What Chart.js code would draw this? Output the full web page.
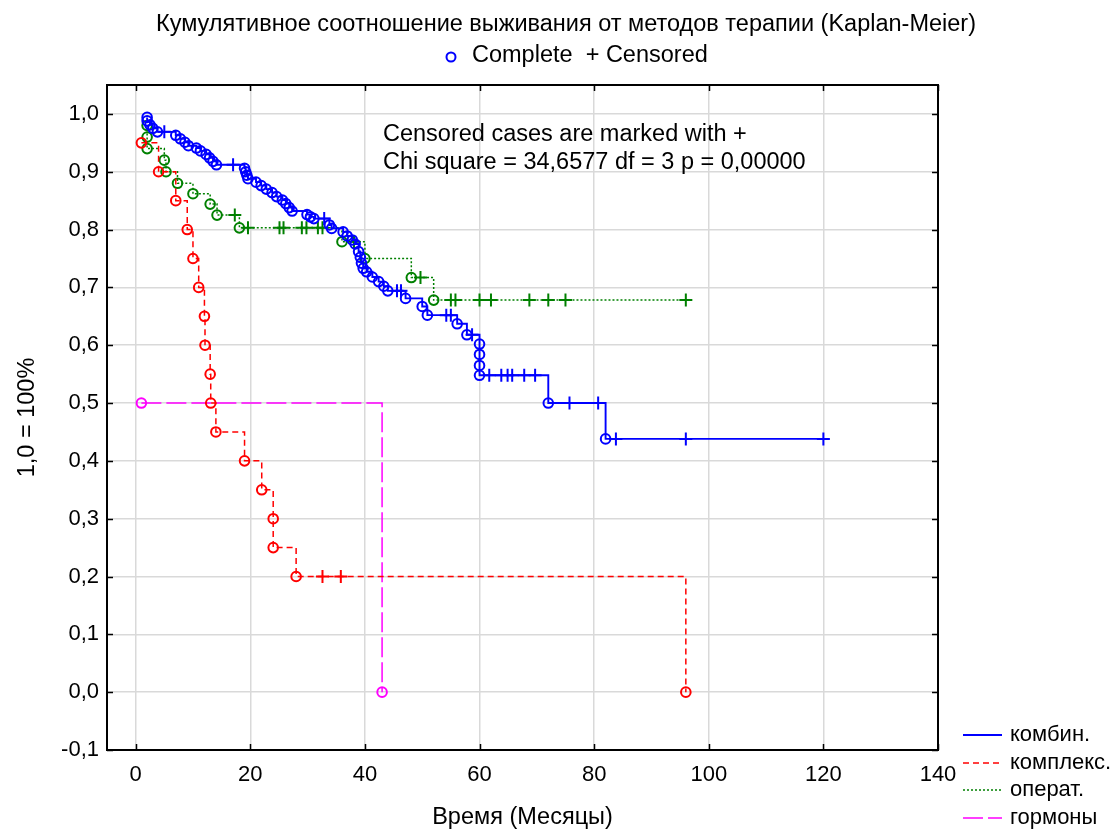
<!DOCTYPE html>
<html><head><meta charset="utf-8">
<script src="https://cdn.jsdelivr.net/npm/chart.js@4.4.1/dist/chart.umd.min.js"></script>
<style>html,body{margin:0;padding:0;background:#fff;}</style>
</head><body>
<canvas id="c" width="1118" height="830"></canvas>
<script>
const chartTitle = 'Кумулятивное соотношение выживания от методов терапии (Kaplan-Meier)';
const subtitleText = 'Complete  + Censored';
const noteLines = ['Censored cases are marked with +', 'Chi square = 34,6577 df = 3 p = 0,00000'];
const xAxisTitle = 'Время (Месяцы)';
const yAxisTitle = '1,0 = 100%';
const seriesNames = ['комбин.', 'комплекс.', 'операт.', 'гормоны'];
const xTickValues = [0, 20, 40, 60, 80, 100, 120, 140];
const yTickValues = [-0.1, 0, 0.1, 0.2, 0.3, 0.4, 0.5, 0.6, 0.7, 0.8, 0.9, 1.0];

// комбин. (1 = censored)
const kombinTime = [2, 2, 2.5, 3, 3.8, 5, 7, 7.8, 8.6, 9.2, 10.6, 11.3, 12.3, 12.9, 13.5, 14.1, 17,
  19, 19.2, 19.4, 19.6, 21, 21.9, 22.8, 23.8, 24.6, 25.6, 26.2, 26.8, 27.3, 29.9, 30.5, 31.1, 32.9,
  33.8, 34.2, 36.2, 36.9, 37.8, 38.3, 38.9, 39.2, 39.4, 39.7, 40.3, 41.3, 42.4, 43.3, 44.0, 45.6, 46.3,
  47.1, 50.0, 50.9, 54.2, 55.0, 56.1, 57.8, 58.7, 60, 60, 60, 60, 61.7, 63.8, 64.9, 65.7, 67.8, 69.7,
  72, 75.7, 80.7, 82, 83.8, 96, 120];
const kombinSurv = [0.994, 0.988, 0.981, 0.975, 0.969, 0.969, 0.963, 0.957, 0.951, 0.945, 0.941, 0.936, 0.930, 0.924, 0.918, 0.912, 0.912,
  0.906, 0.900, 0.894, 0.888, 0.882, 0.876, 0.870, 0.864, 0.857, 0.851, 0.845, 0.838, 0.832, 0.826, 0.822, 0.819, 0.819,
  0.808, 0.802, 0.796, 0.789, 0.782, 0.775, 0.762, 0.752, 0.742, 0.733, 0.727, 0.718, 0.710, 0.702, 0.694, 0.694, 0.694,
  0.681, 0.667, 0.652, 0.652, 0.652, 0.637, 0.618, 0.618, 0.602, 0.584, 0.565, 0.548, 0.548, 0.548, 0.548, 0.548, 0.548, 0.548,
  0.500, 0.500, 0.500, 0.438, 0.438, 0.438, 0.438];
const kombinCens = [0, 0, 0, 0, 0, 1, 0, 0, 0, 0, 0, 0, 0, 0, 0, 0, 1,
  0, 0, 0, 0, 0, 0, 0, 0, 0, 0, 0, 0, 0, 0, 0, 0, 1,
  0, 0, 0, 0, 0, 0, 0, 0, 0, 0, 0, 0, 0, 0, 0, 1, 1,
  0, 0, 0, 1, 1, 0, 0, 1, 0, 0, 0, 0, 1, 1, 1, 1, 1, 1,
  0, 1, 1, 0, 1, 1, 1];

// комплекс.
const komplTime = [1, 4, 7, 9, 10, 11, 12, 12.1, 13, 13.1, 14, 19, 22, 24, 24, 28, 32.6, 35.8, 96];
const komplSurv = [0.95, 0.90, 0.85, 0.80, 0.75, 0.70, 0.65, 0.60, 0.55, 0.50, 0.45, 0.40, 0.35, 0.30, 0.25, 0.20, 0.20, 0.20, 0.0];
const komplCens = [0, 0, 0, 0, 0, 0, 0, 0, 0, 0, 0, 0, 0, 0, 0, 0, 1, 1, 0];

// операт.
const operTime = [2, 2, 2, 5, 5.3, 7.3, 10, 13, 14.2, 17.3, 18.1, 19.6, 25.1, 25.8, 29, 29.8, 31.8, 32.6,
  36, 38.1, 40, 48.1, 49.7, 52, 55, 55.8, 60, 62, 68.7, 72, 75, 96];
const operSurv = [0.98, 0.96, 0.94, 0.92, 0.90, 0.88, 0.862, 0.844, 0.825, 0.825, 0.803, 0.803, 0.803, 0.803, 0.803, 0.803, 0.803, 0.803,
  0.779, 0.779, 0.750, 0.717, 0.717, 0.678, 0.678, 0.678, 0.678, 0.678, 0.678, 0.678, 0.678, 0.678];
const operCens = [0, 0, 0, 0, 0, 0, 0, 0, 0, 1, 0, 1, 1, 1, 1, 1, 1, 1,
  0, 1, 0, 0, 1, 0, 1, 1, 1, 1, 1, 1, 1, 1];

// гормоны
const gormTime = [1, 43];
const gormSurv = [0.5, 0.0];
const gormCens = [0, 0];

const FONT = '"Liberation Sans", Arial, sans-serif';
const BIG = 23.5;

function makeSet(label, times, surv, cens, color, dash, width) {
  return {
    label: label,
    data: times.map((t, i) => ({x: t, y: surv[i]})),
    borderColor: color,
    borderWidth: width,
    borderDash: dash,
    stepped: true,
    fill: false,
    pointStyle: cens.map(c => c ? 'cross' : 'circle'),
    pointRadius: cens.map(c => c ? 6.5 : 4.8),
    pointBorderWidth: 2,
    pointBorderColor: color,
    pointBackgroundColor: 'rgba(255,255,255,0)',
    pointHoverRadius: 0
  };
}

const datasets = [
  makeSet(seriesNames[0], kombinTime, kombinSurv, kombinCens, '#0000ff', [], 1.9),
  makeSet(seriesNames[1], komplTime, komplSurv, komplCens, '#ff0000', [6, 4], 1.5),
  makeSet(seriesNames[2], operTime, operSurv, operCens, '#008000', [2, 2], 1.5),
  makeSet(seriesNames[3], gormTime, gormSurv, gormCens, '#ff00ff', [20, 5], 1.5)
];

const framePlugin = {
  id: 'frame',
  afterDraw(chart) {
    const {ctx, chartArea: a, scales: {x, y}} = chart;
    ctx.save();
    ctx.strokeStyle = '#000';
    ctx.lineWidth = 2;
    ctx.setLineDash([]);
    ctx.strokeRect(a.left, a.top, a.right - a.left, a.bottom - a.top);
    ctx.lineWidth = 1.5;
    ctx.beginPath();
    x.ticks.forEach(t => {
      const px = Math.round(x.getPixelForValue(t.value)) + 0.5;
      ctx.moveTo(px, a.bottom); ctx.lineTo(px, a.bottom - 6);
      ctx.moveTo(px, a.top); ctx.lineTo(px, a.top + 6);
    });
    y.ticks.forEach(t => {
      const py = Math.round(y.getPixelForValue(t.value)) + 0.5;
      ctx.moveTo(a.left, py); ctx.lineTo(a.left + 6, py);
      ctx.moveTo(a.right, py); ctx.lineTo(a.right - 6, py);
    });
    ctx.stroke();

    // title
    ctx.fillStyle = '#000';
    ctx.textBaseline = 'middle';
    ctx.textAlign = 'center';
    ctx.font = BIG + 'px ' + FONT;
    ctx.fillText(chartTitle, 566, 25);

    // subtitle with complete marker
    const textStart = 472;
    ctx.strokeStyle = '#0000ff';
    ctx.lineWidth = 2;
    ctx.beginPath();
    ctx.arc(textStart - 21, 57, 4.5, 0, Math.PI * 2);
    ctx.stroke();
    ctx.textAlign = 'left';
    ctx.fillText(subtitleText, textStart, 56);

    // note
    ctx.fillText(noteLines[0], 383, 135);
    ctx.fillText(noteLines[1], 383, 163);

    // legend
    ctx.font = '22px ' + FONT;
    const rows = [735, 763, 790, 818];
    chart.data.datasets.forEach((ds, i) => {
      ctx.strokeStyle = ds.borderColor;
      ctx.lineWidth = ds.borderWidth;
      ctx.setLineDash(ds.borderDash);
      ctx.beginPath();
      ctx.moveTo(963, rows[i]);
      ctx.lineTo(1002, rows[i]);
      ctx.stroke();
      ctx.setLineDash([]);
      ctx.fillStyle = '#000';
      ctx.textAlign = 'left';
      ctx.fillText(ds.label, 1010, rows[i]);
    });
    ctx.restore();
  }
};

new Chart(document.getElementById('c'), {
  type: 'line',
  data: {datasets: datasets},
  options: {
    responsive: false,
    animation: false,
    devicePixelRatio: 1,
    layout: {padding: {top: 85, right: 180, bottom: 0, left: 0}},
    plugins: {legend: {display: false}, title: {display: false}, tooltip: {enabled: false}},
    scales: {
      x: {
        type: 'linear',
        min: -5, max: 140,
        afterBuildTicks: s => { s.ticks = xTickValues.map(v => ({value: v})); },
        afterFit: s => { s.height = 80; },
        grid: {color: '#d9d9d9', lineWidth: 1.5, drawTicks: false},
        border: {display: false},
        ticks: {color: '#000', font: {family: FONT, size: 22}, padding: 12, maxRotation: 0,
          callback: v => String(v)},
        title: {display: true, text: xAxisTitle, color: '#000', font: {family: FONT, size: BIG, lineHeight: 1.1}, padding: {top: 0, bottom: 0}}
      },
      y: {
        type: 'linear',
        min: -0.1, max: 1.05,
        afterBuildTicks: s => { s.ticks = yTickValues.map(v => ({value: v})); },
        afterFit: s => { s.width = 107; },
        grid: {color: '#d9d9d9', lineWidth: 1.5, drawTicks: false},
        border: {display: false},
        ticks: {color: '#000', font: {family: FONT, size: 22}, padding: 8,
          callback: v => v.toFixed(1).replace('.', ',')},
        title: {display: true, text: yAxisTitle, color: '#000', font: {family: FONT, size: BIG, lineHeight: 1.1}, padding: {top: 15, bottom: 0}}
      }
    }
  },
  plugins: [framePlugin]
});
</script>
</body></html>
